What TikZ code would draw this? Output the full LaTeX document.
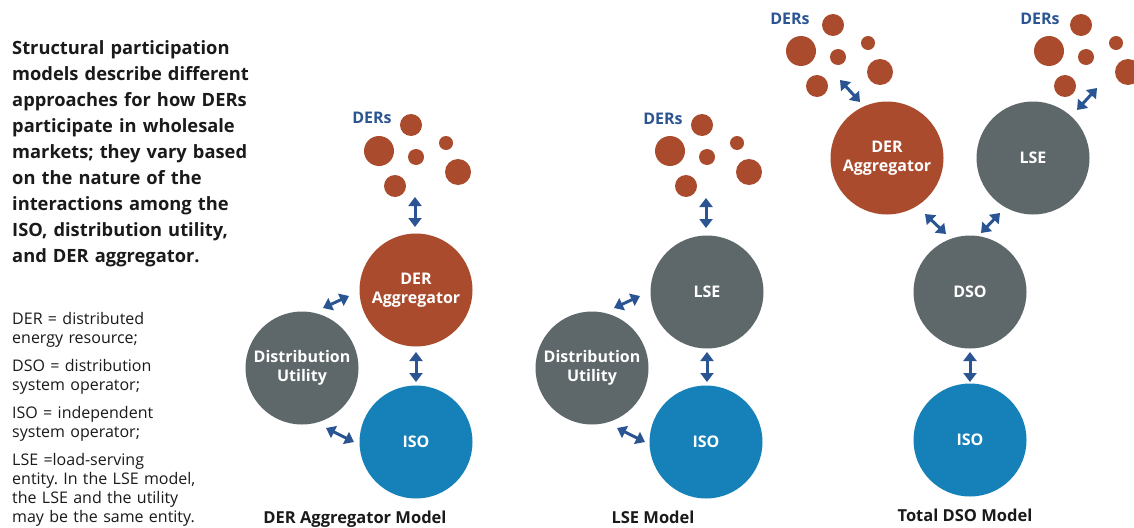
\documentclass[tikz,border=0pt]{standalone}
\usepackage{fontspec}
\setmainfont{Open Sans}
\usetikzlibrary{arrows.meta}
\definecolor{rust}{HTML}{AA4B2E}
\definecolor{slate}{HTML}{5E6769}
\definecolor{isoblue}{HTML}{1681B9}
\definecolor{arrblue}{HTML}{2B5592}
\definecolor{ink}{HTML}{1A1A1A}
\tikzset{
  bigcirc/.style={circle, minimum size=113pt, inner sep=0pt, text=white, align=center,
    font=\bfseries\fontsize{16}{19}\selectfont},
  aggc/.style={bigcirc, fill=rust},
  grayc/.style={bigcirc, fill=slate},
  isoc/.style={bigcirc, fill=isoblue},
  dot/.style={circle, fill=rust, inner sep=0pt},
  biarrow/.style={draw=arrblue, line width=3pt,
    {Triangle[width=13pt,length=9pt]}-{Triangle[width=13pt,length=9pt]}},
  derslabel/.style={text=arrblue, font=\bfseries\fontsize{16}{19}\selectfont, inner sep=0pt},
  modellabel/.style={text=ink, font=\bfseries\fontsize{16.5}{20}\selectfont, inner sep=0pt, anchor=base},
}
\newcommand{\derdots}[3]{% prefix, dx, dy
  \node[dot, minimum size=22pt] (#1d1) at (411+#2,125+#3) {};
  \node[dot, minimum size=30pt] (#1d2) at (379+#2,151+#3) {};
  \node[dot, minimum size=14pt] (#1d3) at (446+#2,143+#3) {};
  \node[dot, minimum size=16pt] (#1d4) at (416+#2,157+#3) {};
  \node[dot, minimum size=26pt] (#1d5) at (458+#2,172+#3) {};
  \node[dot, minimum size=22pt] (#1d6) at (395+#2,186+#3) {};
}
\begin{document}
\frenchspacing
\begin{tikzpicture}[x=1pt,y=-1pt]
\useasboundingbox (0,0) rectangle (1134,527);
\fill[white] (0,0) rectangle (1134,527);

% left text
\node[anchor=north west, inner sep=0pt, text width=270pt, align=left, text=ink,
  font=\bfseries\fontsize{18.3}{26.1}\selectfont] (intro) at (12,40)
 {Structural participation\\
  models describe different\\
  approaches for how DERs\\
  participate in wholesale\\
  markets; they vary based\\
  on the nature of the\\
  interactions among the\\
  ISO, distribution utility,\\
  and DER aggregator.};
\node[anchor=north west, inner sep=0pt, text width=260pt, align=left, text=ink,
  font=\fontsize{16}{19}\selectfont] (defs) at (12,312)
 {DER = distributed\\
  energy resource;\\[9pt]
  DSO = distribution\\
  system operator;\\[9pt]
  ISO = independent\\
  system operator;\\[9pt]
  LSE =load-serving\\
  entity. In the LSE model,\\
  the LSE and the utility\\
  may be the same entity.};

% ---------- DER Aggregator Model ----------
\derdots{a}{0}{0}
\node[derslabel] (dersA) at (372,118) {DERs};
\node[aggc] (aggA) at (416,290) {DER\\Aggregator};
\node[grayc] (duA) at (302,368) {Distribution\\Utility};
\node[isoc] (isoA) at (416,442) {ISO};
\node[modellabel] (labA) at (355,523) {DER Aggregator Model};
\coordinate (a1s) at (415,197); \coordinate (a1e) at (415,227);
\coordinate (a2s) at (323,308); \coordinate (a2e) at (349,296);
\coordinate (a3s) at (416,352); \coordinate (a3e) at (416,382);
\coordinate (a4s) at (326,428); \coordinate (a4e) at (354,442);
\draw[biarrow] (a1s) -- (a1e);
\draw[biarrow] (a2s) -- (a2e);
\draw[biarrow] (a3s) -- (a3e);
\draw[biarrow] (a4s) -- (a4e);

% ---------- LSE Model ----------
\derdots{b}{291}{0}
\node[derslabel] (dersB) at (663,119) {DERs};
\node[grayc] (lseB) at (707,292) {LSE};
\node[grayc] (duB) at (592,368) {Distribution\\Utility};
\node[isoc] (isoB) at (706,442) {ISO};
\node[modellabel] (labB) at (653,523) {LSE Model};
\coordinate (b1s) at (706,198); \coordinate (b1e) at (706,228);
\coordinate (b2s) at (614,308); \coordinate (b2e) at (640,296);
\coordinate (b3s) at (707,352); \coordinate (b3e) at (707,382);
\coordinate (b4s) at (617,428); \coordinate (b4e) at (645,442);
\draw[biarrow] (b1s) -- (b1e);
\draw[biarrow] (b2s) -- (b2e);
\draw[biarrow] (b3s) -- (b3e);
\draw[biarrow] (b4s) -- (b4e);

% ---------- Total DSO Model ----------
\derdots{c}{422}{-100}
\derdots{e}{670}{-100}
\node[derslabel] (dersC) at (790,19) {DERs};
\node[derslabel] (dersE) at (1040,19) {DERs};
\node[aggc] (aggC) at (887,158) {DER\\Aggregator};
\node[grayc] (lseC) at (1033,158) {LSE};
\node[grayc] (dsoC) at (970,292) {DSO};
\node[isoc] (isoC) at (970,440) {ISO};
\node[modellabel] (labC) at (965,521) {Total DSO Model};
\coordinate (c1s) at (840,80); \coordinate (c1e) at (860,102);
\coordinate (c2s) at (1097,88); \coordinate (c2e) at (1077,110);
\coordinate (c3s) at (925,214); \coordinate (c3e) at (946,234);
\coordinate (c4s) at (1000,213); \coordinate (c4e) at (981,233);
\coordinate (c5s) at (970,352); \coordinate (c5e) at (970,382);
\draw[biarrow] (c1s) -- (c1e);
\draw[biarrow] (c2s) -- (c2e);
\draw[biarrow] (c3s) -- (c3e);
\draw[biarrow] (c4s) -- (c4e);
\draw[biarrow] (c5s) -- (c5e);
\end{tikzpicture}
\end{document}
